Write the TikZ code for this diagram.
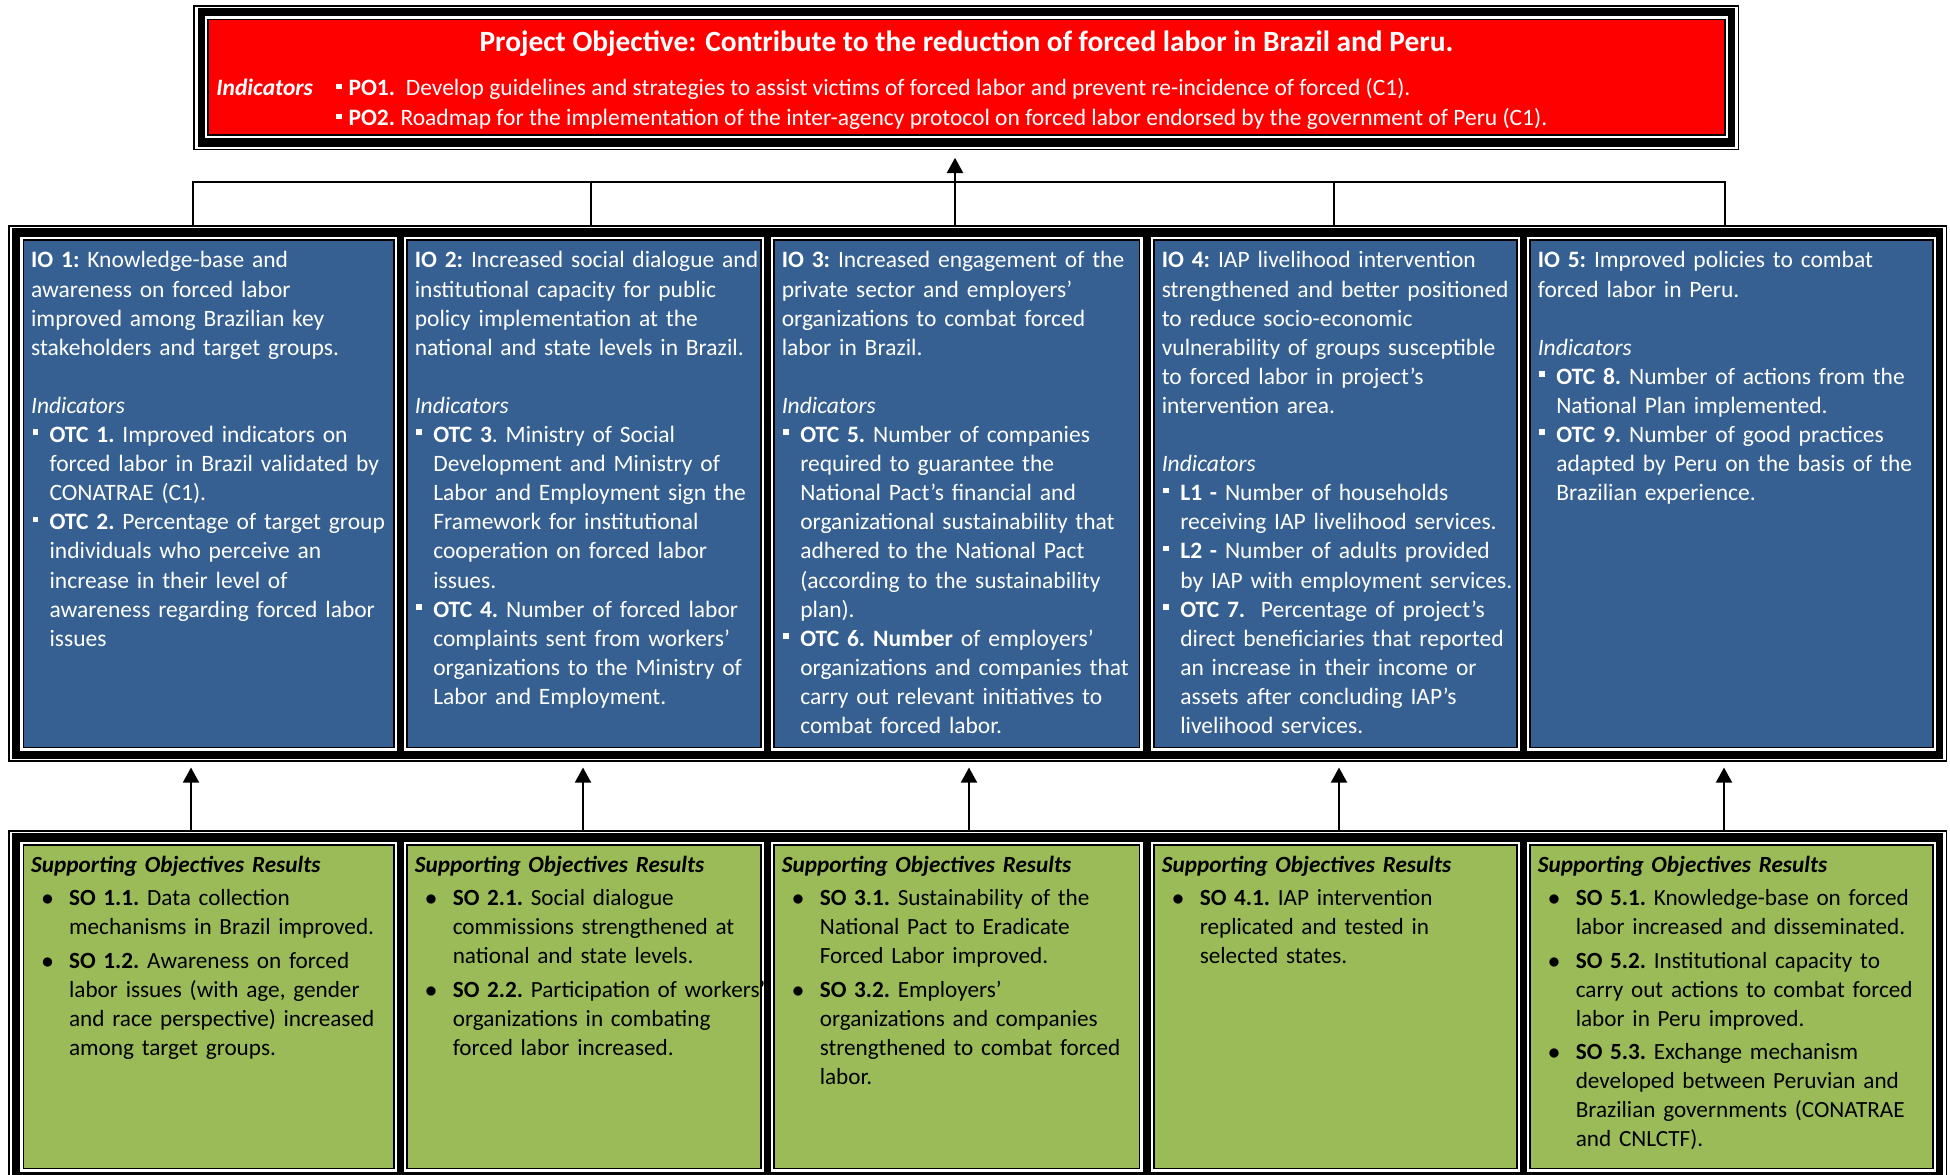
\documentclass[tikz,border=0pt]{standalone}
\usepackage{fontspec}
\setmainfont{Carlito}
\usetikzlibrary{arrows.meta,fit,calc}

\definecolor{ioblue}{RGB}{54,96,146}
\definecolor{sogreen}{RGB}{155,187,89}
\definecolor{pored}{RGB}{255,0,0}

% forced line break that stays inside the current paragraph
\newcommand\nl{\hfil\break}
% square bullet for indicator lists (blue cells)
\newcommand\sqbullet{\raisebox{3.8pt}{\rule{2.8pt}{2.8pt}}}
\newcommand\indic[1]{\par\hangindent=9.25pt\hangafter=1\noindent\makebox[9.25pt][l]{\hspace{0.8pt}\sqbullet}#1\par}
% round bullet for result lists (green cells)
\newcommand\resitem[1]{\par\vspace{2.2pt}\hangindent=19pt\hangafter=1\noindent\makebox[19pt][l]{\hspace{5.2pt}$\bullet$}#1\par}
% spacer between objective and indicator heading
\newcommand\gapline{\par\vspace{14.55pt}\noindent}

\tikzset{
  rim/.style={draw=black, line width=0.8pt, inner sep=0pt},
  bluecell/.style={fill=ioblue, draw=black, line width=0.6pt, inner sep=0pt},
  greencell/.style={fill=sogreen, draw=black, line width=0.6pt, inner sep=0pt},
  redcell/.style={fill=pored, draw=black, line width=0.6pt, inner sep=0pt},
  celltext/.style={anchor=base west, inner sep=0pt, text width=205pt,
    font=\fontsize{11.75pt}{14.55pt}\selectfont,
    execute at begin node={\frenchspacing\parindent=0pt\rightskip=0pt plus 1fil\relax}},
  iotext/.style={celltext, text=white},
  sotext/.style={celltext, text=black, font=\fontsize{11.6pt}{14.5pt}\selectfont},
  potext/.style={anchor=base west, inner sep=0pt, text=white,
    font=\fontsize{11.75pt}{13pt}\selectfont,
    execute at begin node={\frenchspacing}},
  conn/.style={draw=black, line width=0.85pt},
  arr/.style={conn, line width=1.1pt, -{Triangle[length=7.6pt,width=8pt]}},
}

% framed band: outer thin rule, white gap, heavy black band
\newcommand\framerow[7]{%
  \node[rim, fit={(#2,#3)(#4,#5)}] (#1) {};
  \fill[black] ({#2+#6},{#3+#7}) rectangle ({#4-#6},{#5-#7});
}
% cell inside a framed band: white rim, thin black rule, coloured fill
\newcommand\cell[6]{%
  \fill[white] ({#3-3},{#4-3}) rectangle ({#5+3},{#6+3});
  \node[#2, fit={(#3,#4)(#5,#6)}] (#1) {};
}

\begin{document}
\begin{tikzpicture}[x=0.5pt,y=-0.5pt]
\useasboundingbox (0,0) rectangle (1950,1174);
\clip (0,0) rectangle (1950,1174);

% ---------- project objective ----------
\framerow{potop}{194}{5.9}{1738.5}{149.5}{4}{2.5}
\cell{po}{redcell}{208}{19.3}{1725}{135}

\node[anchor=base, inner sep=0pt, text=white,
  font=\fontsize{14.7pt}{16pt}\selectfont\bfseries] (title) at (966.5,51.5)
  {Project Objective: Contribute to the reduction of forced labor in Brazil and Peru.};
\node[potext] (poind) at (216,95.7) {\textbf{\textit{Indicators}}};
\node[potext] (po1) at (336,95.7)
  {\raisebox{3.4pt}{\rule{2.6pt}{2.6pt}}\hspace{3.5pt}\textbf{PO1.}\ \ Develop guidelines and strategies to assist victims of forced labor and prevent re-incidence of forced (C1).};
\node[potext] (po2) at (336,125.7)
  {\raisebox{3.4pt}{\rule{2.6pt}{2.6pt}}\hspace{3.5pt}\textbf{PO2.} Roadmap for the implementation of the inter-agency protocol on forced labor endorsed by the government of Peru (C1).};

% ---------- intermediate objectives ----------
\framerow{iorow}{9.2}{225.8}{1946.3}{761.2}{3}{2.5}
\cell{io1}{bluecell}{23.3}{240}{394}{747.7}
\cell{io2}{bluecell}{407}{240}{761}{747.7}
\cell{io3}{bluecell}{774}{240}{1139.5}{747.7}
\cell{io4}{bluecell}{1154}{240}{1517}{747.7}
\cell{io5}{bluecell}{1530}{240}{1933}{747.7}

\node[iotext] (tio1) at ($(io1.north west)+(8,28.5)$) {%
\noindent\textbf{IO 1:} Knowledge-base and\nl awareness on forced labor\nl improved among Brazilian key\nl stakeholders and target groups.%
\gapline\textit{Indicators}%
\indic{\textbf{OTC 1.} Improved indicators on\nl forced labor in Brazil validated by\nl CONATRAE (C1).}%
\indic{\textbf{OTC 2.} Percentage of target group\nl individuals who perceive an\nl increase in their level of\nl awareness regarding forced labor\nl issues}};

\node[iotext] (tio2) at ($(io2.north west)+(8,28.5)$) {%
\noindent\textbf{IO 2:} Increased social dialogue and\nl institutional capacity for public\nl policy implementation at the\nl national and state levels in Brazil.%
\gapline\textit{Indicators}%
\indic{\textbf{OTC 3}. Ministry of Social\nl Development and Ministry of\nl Labor and Employment sign the\nl Framework for institutional\nl cooperation on forced labor\nl issues.}%
\indic{\textbf{OTC 4.} Number of forced labor\nl complaints sent from workers’\nl organizations to the Ministry of\nl Labor and Employment.}};

\node[iotext] (tio3) at ($(io3.north west)+(8,28.5)$) {%
\noindent\textbf{IO 3:} Increased engagement of the\nl private sector and employers’\nl organizations to combat forced\nl labor in Brazil.%
\gapline\textit{Indicators}%
\indic{\textbf{OTC 5.} Number of companies\nl required to guarantee the\nl National Pact’s financial and\nl organizational sustainability that\nl adhered to the National Pact\nl (according to the sustainability\nl plan).}%
\indic{\textbf{OTC 6. Number} of employers’\nl organizations and companies that\nl carry out relevant initiatives to\nl combat forced labor.}};

\node[iotext] (tio4) at ($(io4.north west)+(8,28.5)$) {%
\noindent\textbf{IO 4:} IAP livelihood intervention\nl strengthened and better positioned\nl to reduce socio-economic\nl vulnerability of groups susceptible\nl to forced labor in project’s\nl intervention area.%
\gapline\textit{Indicators}%
\indic{\textbf{L1 -} Number of households\nl receiving IAP livelihood services.}%
\indic{\textbf{L2 -} Number of adults provided\nl by IAP with employment services.}%
\indic{\textbf{OTC 7.}\ \ Percentage of project’s\nl direct beneficiaries that reported\nl an increase in their income or\nl assets after concluding IAP’s\nl livelihood services.}};

\node[iotext] (tio5) at ($(io5.north west)+(8,28.5)$) {%
\noindent\textbf{IO 5:} Improved policies to combat\nl forced labor in Peru.%
\gapline\textit{Indicators}%
\indic{\textbf{OTC 8.} Number of actions from the\nl National Plan implemented.}%
\indic{\textbf{OTC 9.} Number of good practices\nl adapted by Peru on the basis of the\nl Brazilian experience.}};

% ---------- supporting objectives ----------
\framerow{sorow}{9.2}{830.8}{1946.3}{1190}{3}{2.5}
\cell{so1}{greencell}{23.3}{845}{394}{1168.5}
\cell{so2}{greencell}{407}{845}{761}{1168.5}
\cell{so3}{greencell}{774}{845}{1139.5}{1168.5}
\cell{so4}{greencell}{1154}{845}{1517}{1168.5}
\cell{so5}{greencell}{1530}{845}{1933}{1168.5}

\node[sotext] (tso1) at ($(so1.north west)+(8,28)$) {%
\noindent\textbf{\textit{Supporting Objectives Results}}%
\resitem{\textbf{SO 1.1.} Data collection\nl mechanisms in Brazil improved.}%
\resitem{\textbf{SO 1.2.} Awareness on forced\nl labor issues (with age, gender\nl and race perspective) increased\nl among target groups.}};

\node[sotext] (tso2) at ($(so2.north west)+(8,28)$) {%
\noindent\textbf{\textit{Supporting Objectives Results}}%
\resitem{\textbf{SO 2.1.} Social dialogue\nl commissions strengthened at\nl national and state levels.}%
\resitem{\textbf{SO 2.2.} Participation of workers’\nl organizations in combating\nl forced labor increased.}};

\node[sotext] (tso3) at ($(so3.north west)+(8,28)$) {%
\noindent\textbf{\textit{Supporting Objectives Results}}%
\resitem{\textbf{SO 3.1.} Sustainability of the\nl National Pact to Eradicate\nl Forced Labor improved.}%
\resitem{\textbf{SO 3.2.} Employers’\nl organizations and companies\nl strengthened to combat forced\nl labor.}};

\node[sotext] (tso4) at ($(so4.north west)+(8,28)$) {%
\noindent\textbf{\textit{Supporting Objectives Results}}%
\resitem{\textbf{SO 4.1.} IAP intervention\nl replicated and tested in\nl selected states.}};

\node[sotext] (tso5) at ($(so5.north west)+(8,28)$) {%
\noindent\textbf{\textit{Supporting Objectives Results}}%
\resitem{\textbf{SO 5.1.} Knowledge-base on forced\nl labor increased and disseminated.}%
\resitem{\textbf{SO 5.2.} Institutional capacity to\nl carry out actions to combat forced\nl labor in Peru improved.}%
\resitem{\textbf{SO 5.3.} Exchange mechanism\nl developed between Peruvian and\nl Brazilian governments (CONATRAE\nl and CNLCTF).}};

% ---------- connectors: intermediate objectives up to the project objective ----------
\coordinate (barl) at (193,182);
\coordinate (barr) at (1725,182);
\coordinate (drop2) at (591,182);
\coordinate (drop4) at (1334,182);
\coordinate (riser) at (955,182);
\draw[conn] (barl |- iorow.north) -- (barl) -- (barr) -- (barr |- iorow.north);
\draw[conn] (drop2) -- (drop2 |- iorow.north);
\draw[conn] (drop4) -- (drop4 |- iorow.north);
\draw[arr] (riser |- iorow.north) -- ($(riser |- potop.south)+(0,7.5)$);

% ---------- connectors: supporting results up to intermediate objectives ----------
\foreach \k/\xx in {1/191, 2/583, 3/969, 4/1339, 5/1724}{
  \coordinate (up\k) at (\xx,800);
  \draw[arr] (up\k |- sorow.north) -- ($(up\k |- iorow.south)+(0,5.5)$);
}
\end{tikzpicture}
\end{document}
